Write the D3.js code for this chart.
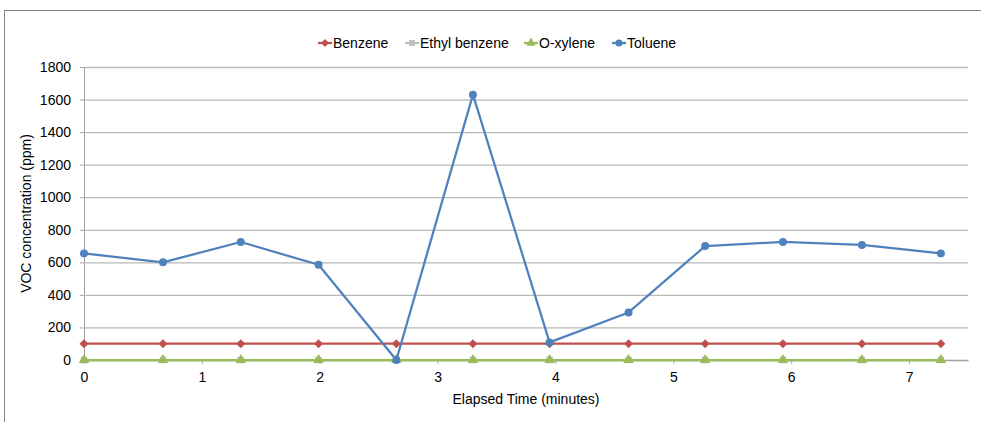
<!DOCTYPE html>
<html>
<head>
<meta charset="utf-8">
<script src="https://cdn.jsdelivr.net/npm/d3@7"></script>
<style>
  html, body { margin:0; padding:0; background:#fff; }
  svg { display:block; font-family:"Liberation Sans", Arial, sans-serif; }
  .axis text { font-size:14px; fill:#000; }
</style>
</head>
<body>
<svg id="chart" width="981" height="422"></svg>
<script>
/* ===== Data ===== */
const minutes   = [0, 0.67, 1.33, 1.99, 2.65, 3.3, 3.95, 4.62, 5.27, 5.93, 6.6, 7.27];
const benzene   = [100, 100, 100, 100, 100, 100, 100, 100, 100, 100, 100, 100];
const ethylBenz = [0, 0, 0, 0, 0, 0, 0, 0, 0, 0, 0, 0];
const oXylene   = [0, 0, 0, 0, 0, 0, 0, 0, 0, 0, 0, 0];
const toluene   = [655, 600, 725, 585, 0, 1630, 108, 292, 700, 725, 707, 655];
const xTicks = [0, 1, 2, 3, 4, 5, 6, 7];
const yTicks = [0, 200, 400, 600, 800, 1000, 1200, 1400, 1600, 1800];

// diamond drawn as a square turned 45deg (Excel style, wider than d3's)
const diamond = { draw(ctx, size){ const r = Math.sqrt(size/2); ctx.moveTo(0,-r); ctx.lineTo(r,0); ctx.lineTo(0,r); ctx.lineTo(-r,0); ctx.closePath(); } };

const series = [
  {name:'Benzene',       vals:benzene,   color:'#C0504D', shape:diamond,          size:40},
  {name:'Ethyl benzene', vals:ethylBenz, color:'#BFBFBF', shape:d3.symbolSquare,   size:42},
  {name:'O-xylene',      vals:oXylene,   color:'#9BBB59', shape:d3.symbolTriangle, size:48},
  {name:'Toluene',       vals:toluene,   color:'#4F81BD', shape:d3.symbolCircle,   size:50},
];

/* ===== Layout ===== */
const svg = d3.select('#chart');
const m = {l:84, r:13, t:67, b:62};
const W = 981, H = 422;
const x = d3.scaleLinear().domain([0, 7.5]).range([m.l, W - m.r]);
const y = d3.scaleLinear().domain([0, 1800]).range([H - m.b, m.t]);

// chart frame (only top/left edges visible in the crop)
svg.append('rect').attr('x',4.5).attr('y',10.5).attr('width',1200).attr('height',800)
  .attr('fill','none').attr('stroke','#868686').attr('stroke-width',1);

// gridlines + y axis
const yA = d3.axisLeft(y).tickValues(yTicks).tickFormat(d3.format('d')).tickSize(4).tickPadding(9);
const gy = svg.append('g').attr('class','axis').attr('transform',`translate(${m.l},0)`).call(yA);
gy.select('.domain').attr('stroke','#A0A0A0');
gy.selectAll('.tick line').attr('stroke','#A0A0A0');
svg.append('g').selectAll('line').data(yTicks.filter(d=>d>0)).enter().append('line')
  .attr('x1',m.l).attr('x2',W - m.r).attr('y1',d=>y(d)+0.5).attr('y2',d=>y(d)+0.5)
  .attr('stroke','#B8B8B8').attr('stroke-width',1.3);

// x axis
const xA = d3.axisBottom(x).tickValues(xTicks).tickSize(4).tickPadding(8).tickSizeOuter(0);
const gx = svg.append('g').attr('class','axis').attr('transform',`translate(0,${y(0)})`).call(xA);
gx.select('.domain').attr('stroke','#A0A0A0').attr('stroke-width',1.3);
gx.selectAll('.tick line').attr('stroke','#A0A0A0');

// axis titles
svg.append('text').attr('x',(m.l + W - m.r)/2).attr('y',404).attr('text-anchor','middle')
  .attr('font-size',14).text('Elapsed Time (minutes)');
svg.append('text').attr('transform',`translate(31,${(m.t + H - m.b)/2}) rotate(-90)`)
  .attr('text-anchor','middle').attr('font-size',14).text('VOC concentration (ppm)');

/* ===== Series ===== */
const line = d3.line().x((d,i)=>x(minutes[i])).y(d=>y(d));
series.forEach(s=>{
  const g = svg.append('g');
  g.append('path').attr('d',line(s.vals)).attr('fill','none')
    .attr('stroke',s.color).attr('stroke-width',2.25).attr('stroke-linejoin','round');
  g.selectAll('path.pt').data(s.vals).enter().append('path').attr('class','pt')
    .attr('d',d3.symbol().type(s.shape).size(s.size))
    .attr('transform',(d,i)=>`translate(${x(minutes[i])},${y(d)})`)
    .attr('fill',s.color);
});

/* ===== Legend ===== */
const legX = [318, 405, 524, 612];
const leg = svg.append('g');
series.forEach((s,i)=>{
  const g = leg.append('g').attr('transform',`translate(${legX[i]},43)`);
  g.append('line').attr('x1',0).attr('x2',14).attr('stroke',s.color).attr('stroke-width',2.25);
  g.append('path').attr('d',d3.symbol().type(s.shape).size(s.size*0.8)).attr('transform','translate(7,0)').attr('fill',s.color);
  g.append('text').attr('x',15).attr('y',5).attr('font-size',14).text(s.name);
});
</script>
</body>
</html>
